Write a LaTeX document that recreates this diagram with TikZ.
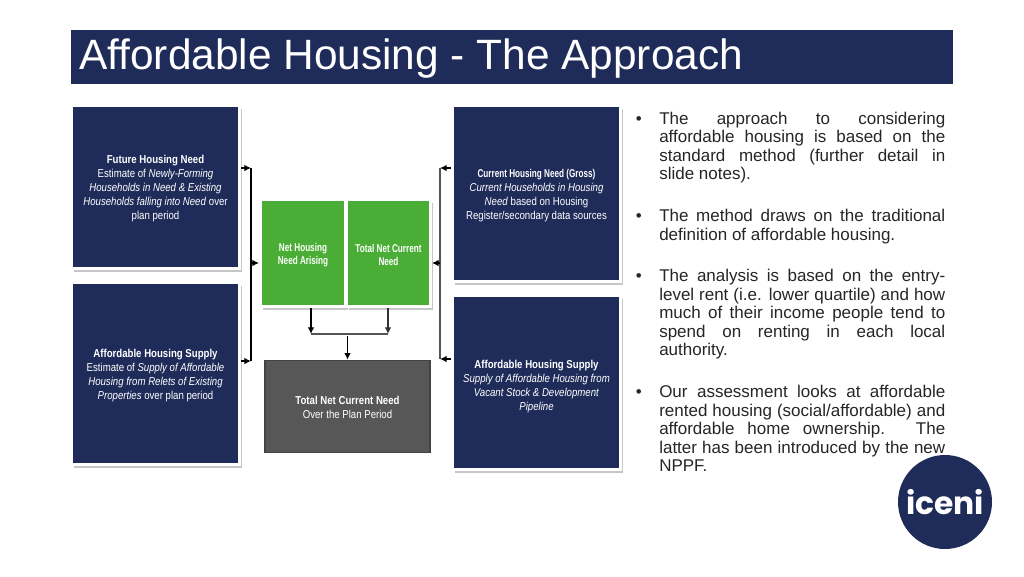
\documentclass[tikz,border=0pt]{standalone}
\usepackage{fontspec}
\setmainfont{Liberation Sans}
\newfontfamily\boxfont[FakeStretch=0.84]{Liberation Sans}
\newfontfamily\tightfont[FakeStretch=0.72]{Liberation Sans}
\newfontfamily\logofont{Poppins}
\usetikzlibrary{shadows, arrows.meta}
\definecolor{navy}{HTML}{1F2C59}
\definecolor{leaf}{HTML}{4AAE36}
\definecolor{slate}{HTML}{575757}
\definecolor{slateline}{HTML}{434343}
\definecolor{busgrey}{HTML}{555555}
\newcommand{\firstdrop}[1]{\rule{0pt}{#1}}
\begin{document}
\begin{tikzpicture}[x=0.75pt, y=-0.75pt,
        shadowbox/.style={draw=white, line width=2.25pt, inner sep=0pt, align=center, text=white,
            drop shadow={shadow xshift=1.8pt, shadow yshift=-2.8pt, fill=black!28, opacity=0.8}},
        bluebox/.style={shadowbox, fill=navy, minimum width=126pt, font=\boxfont\fontsize{8.6}{10.5}\selectfont},
        greenbox/.style={shadowbox, fill=leaf, minimum height=80.25pt, font=\tightfont\fontsize{8.5}{9.8}\selectfont},
        bullettext/.style={anchor=north west, inner sep=0pt, text width=214.5pt, align=justify, text=black!85, font=\fontsize{12.75}{13.9}\selectfont},
        bus/.style={line width=0.95pt},
        feed/.style={line width=0.95pt, -{Latex[length=5pt, width=5pt]}}]
    \useasboundingbox (0, 0) rectangle (1024, 576);
    \fill[white] (0, 0) rectangle (1024, 576);

    \node[fill=navy, text=white, minimum width=661.5pt, minimum height=40.5pt, inner sep=0pt] (titlebar) at (512, 57) {};
    \node[anchor=west, inner sep=0pt, text=white, font=\fontsize{31.8}{36}\selectfont] (title) at (79, 59) {Affordable Housing - The Approach};

    \node[bluebox, minimum height=122.25pt] (future) at (155.5, 187) {\firstdrop{8.2pt}\textbf{Future Housing Need}\\Estimate of \textit{Newly-Forming}\\\textit{Households in Need \& Existing}\\\textit{Households falling into Need} over\\plan period};
    \node[bluebox, minimum height=136.5pt] (supplyleft) at (155.5, 373.5) {\firstdrop{9.5pt}\textbf{Affordable Housing Supply}\\Estimate of \textit{Supply of Affordable}\\\textit{Housing from Relets of Existing}\\\textit{Properties} over plan period};
    \node[bluebox, minimum height=132pt] (current) at (536.5, 193.5) {\firstdrop{9.5pt}{\tightfont\fontsize{8.5}{10.5}\selectfont\textbf{Current Housing Need (Gross)}}\\\textit{Current Households in Housing}\\\textit{Need} based on Housing\\Register/secondary data sources};
    \node[bluebox, minimum height=130.5pt] (supplyright) at (536.5, 382.5) {\firstdrop{12.5pt}\textbf{Affordable Housing Supply}\\\textit{Supply of Affordable Housing from}\\\textit{Vacant Stock \& Development}\\\textit{Pipeline}};

    \node[greenbox, minimum width=63.75pt] (arising) at (303, 253) {\firstdrop{9pt}\textbf{Net Housing}\\\textbf{Need Arising}};
    \node[greenbox, minimum width=63pt] (netcurrent) at (388.5, 253) {\firstdrop{9pt}\textbf{Total Net Current}\\\textbf{Need}};
    \node[draw=slateline, line width=1.2pt, fill=slate, text=white, inner sep=0pt, align=center,
        minimum width=124pt, minimum height=69pt, font=\boxfont\fontsize{8.6}{10.5}\selectfont] (total) at (347.5, 406.5) {\firstdrop{8.2pt}\textbf{Total Net Current Need}\\Over the Plan Period};

    \coordinate (lefttop) at (251, 168);
    \coordinate (leftmid) at (251, 263);
    \coordinate (leftbot) at (251, 361);
    \coordinate (righttop) at (440, 168);
    \coordinate (rightmid) at (440, 263);
    \coordinate (rightbot) at (440, 359);
    \coordinate (mergeleft) at (311, 334);
    \coordinate (mergeright) at (388, 334);
    \coordinate (mergemid) at (347.5, 336);

    \draw[bus] (lefttop) -- (leftbot);
    \draw[feed] (future.east |- lefttop) -- (lefttop);
    \draw[feed] (supplyleft.east |- leftbot) -- (leftbot);
    \draw[feed] (leftmid) -- (arising.west |- leftmid);
    \draw[bus, busgrey] (righttop) -- (rightbot);
    \draw[feed] (current.west |- righttop) -- (righttop);
    \draw[feed] (supplyright.west |- rightbot) -- (rightbot);
    \draw[feed] (rightmid) -- (netcurrent.east |- rightmid);
    \draw[feed] (arising.south -| mergeleft) -- (mergeleft);
    \draw[feed, busgrey!60!black] (netcurrent.south -| mergeright) -- (mergeright);
    \draw[bus, busgrey] (mergeleft) -- (mergeright);
    \draw[feed] (mergemid) -- (total.north -| mergemid);

    \node[bullettext] (pointa) at (659, 111.5) {\llap{\textbullet\hspace{13pt}}The approach to considering\linebreak affordable housing is based on the\linebreak standard method (further detail in\linebreak slide notes).};
    \node[bullettext] (pointb) at (659, 209) {\llap{\textbullet\hspace{13pt}}The method draws on the traditional definition of affordable housing.};
    \node[bullettext] (pointc) at (659, 269) {\llap{\textbullet\hspace{13pt}}The analysis is based on the entry-\linebreak level rent (i.e. lower quartile) and how\linebreak much of their income people tend to\linebreak spend on renting in each local\linebreak authority.};
    \node[bullettext] (pointd) at (659, 385) {\llap{\textbullet\hspace{13pt}}Our assessment looks at affordable\linebreak rented housing (social/affordable) and\linebreak affordable home ownership. The\linebreak latter has been introduced by the new\linebreak NPPF.};

    \node[circle, fill=navy, minimum size=70.5pt, inner sep=0pt, text=white, font=\logofont\bfseries\fontsize{23.5}{24}\selectfont] (logo) at (945, 502) {iceni};
\end{tikzpicture}
\end{document}
